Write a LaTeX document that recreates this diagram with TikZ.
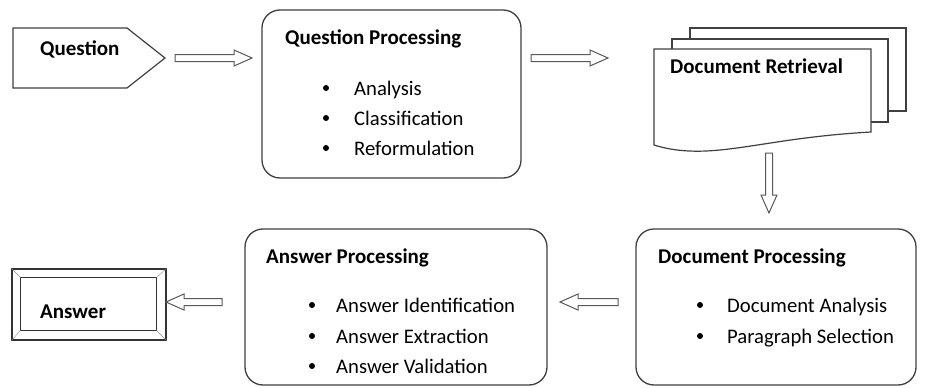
\documentclass[tikz,border=0pt]{standalone}
\usepackage{fontspec}
\setmainfont{Carlito}
\usetikzlibrary{calc}
\tikzset{
  procbox/.style={draw=black!75, line width=1.3pt, rounded corners=18pt, fill=white},
  page/.style={draw=black!75, line width=1.2pt, fill=white},
  title/.style={font=\fontsize{21}{25}\selectfont\bfseries, anchor=base west, inner sep=0pt},
  entry/.style={font=\fontsize{20.7}{25}\selectfont, anchor=base west, inner sep=0pt},
  dot/.style={circle, fill=black, inner sep=0pt, minimum size=6pt},
  arrowline/.style={draw=black!65, line width=1pt, fill=white, line join=miter},
}
% hollow block arrow between two named coordinates
\newcommand\blockarrow[2]{%
  \draw[arrowline] ($(#1)!3.5pt!90:(#2)$)
    -- ($($(#2)!18pt!(#1)$)!3.5pt!90:(#2)$)
    -- ($($(#2)!18pt!(#1)$)!8pt!90:(#2)$)
    -- (#2)
    -- ($($(#2)!18pt!(#1)$)!8pt!-90:(#2)$)
    -- ($($(#2)!18pt!(#1)$)!3.5pt!-90:(#2)$)
    -- ($(#1)!3.5pt!-90:(#2)$) -- cycle;}
\begin{document}
\begin{tikzpicture}[x=1pt, y=-1pt]
    % Frame
    \useasboundingbox (0,0) rectangle (930,388);
    % Question
    \draw[page] (13,28) -- (127,28) -- (165,58) -- (127,88) -- (13,88) -- cycle;
    \node[title] (qtext) at (40,56) {Question};
    % Question processing
    \node[procbox, minimum width=259pt, minimum height=168pt] (qproc) at (391.5,94) {};
    \node[title] (qtitle) at (285,45) {Question Processing};
    \foreach \y/\t in {95/Analysis, 125/Classification, 155/Reformulation} {
        \node[dot] at (326,\y-7) {};
        \node[entry] at (354,\y) {\t};
    }
    % Document retrieval
    \draw[page] (690,28) rectangle (906,111);
    \draw[page] (672,39) rectangle (888,122);
    \draw[page] (654,49) -- (871,49) -- (871,132)
        .. controls (800,136) and (760,146) .. (720,150)
        .. controls (690,153) and (670,150) .. (654,145) -- cycle;
    \node[title] (docret) at (670,73) {Document Retrieval};
    % Document processing
    \node[procbox, minimum width=280pt, minimum height=156pt] (docproc) at (776,307) {};
    \node[title] (dtitle) at (658,263) {Document Processing};
    \foreach \y/\t in {312/Document Analysis, 343/Paragraph Selection} {
        \node[dot] at (700,\y-7) {};
        \node[entry] at (727,\y) {\t};
    }
    % Answer processing
    \node[procbox, minimum width=302pt, minimum height=156pt] (ansproc) at (396,307) {};
    \node[title] (atitle) at (266,263) {Answer Processing};
    \foreach \y/\t in {312/Answer Identification, 343/Answer Extraction, 373/Answer Validation} {
        \node[dot] at (312,\y-7) {};
        \node[entry] at (336,\y) {\t};
    }
    % Answer
    \node[draw=black!80, line width=1.2pt, minimum width=154pt, minimum height=71pt] (ansbox) at (89,304.5) {};
    \draw[black!80, line width=1.2pt] ([shift={(9,9)}]ansbox.north west) rectangle ([shift={(-10,-10)}]ansbox.south east);
    \draw[black!45] (ansbox.north west) -- ++(9,9);
    \draw[black!45] (ansbox.north east) -- ++(-10,9);
    \draw[black!45] (ansbox.south west) -- ++(9,-10);
    \draw[black!45] (ansbox.south east) -- ++(-10,-10);
    \node[title] (anstext) at (40,318) {Answer};
    % Connectors
    \coordinate (a1) at (175,58);
    \coordinate (b1) at (252,58);
    \coordinate (a2) at (531,58);
    \coordinate (b2) at (608,58);
    \coordinate (a3) at (769,153);
    \coordinate (b3) at (769,213);
    \coordinate (a4) at (618,302);
    \coordinate (b4) at (560,302);
    \coordinate (a5) at (222,302);
    \coordinate (b5) at (166,302);
    \blockarrow{a1}{b1}
    \blockarrow{a2}{b2}
    \blockarrow{a3}{b3}
    \blockarrow{a4}{b4}
    \blockarrow{a5}{b5}
\end{tikzpicture}
\end{document}
